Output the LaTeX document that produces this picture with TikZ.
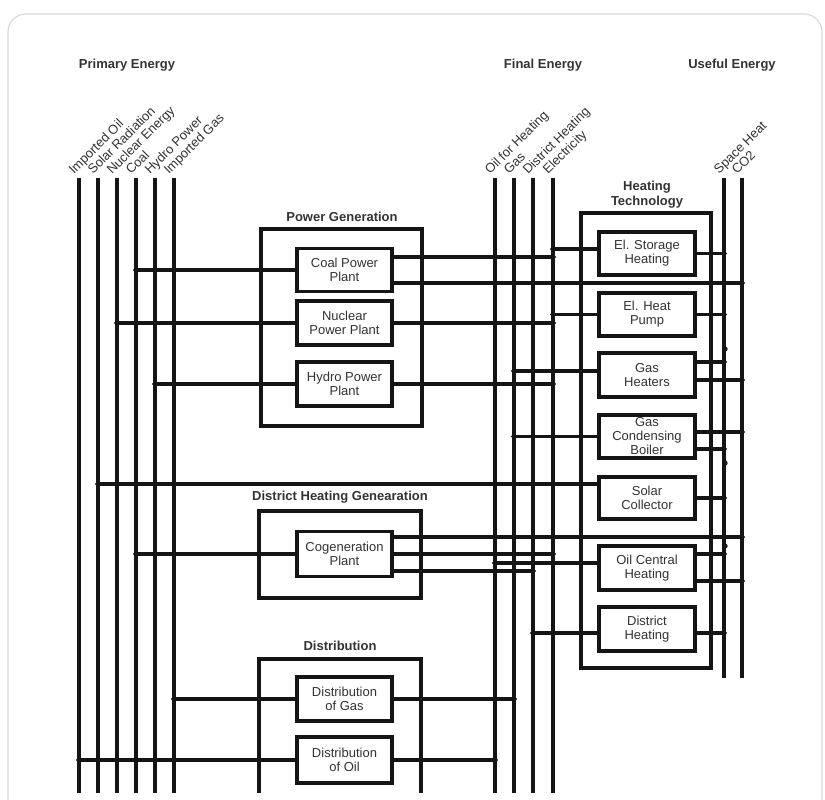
\documentclass[tikz,border=0pt]{standalone}
\usepackage{fontspec}
\setmainfont{Liberation Sans}
\usetikzlibrary{arrows.meta}
\definecolor{ink}{HTML}{151515}
\definecolor{txt}{HTML}{333333}
\tikzset{
	bus/.style={line width=3.6pt, draw=ink},
	wire/.style={line width=3.6pt, draw=ink},
	tap/.style={wire, shorten >=-2.5pt, -{Circle[length=5.5pt]}},
	grp/.style={draw=ink, line width=3.6pt},
	unit/.style={draw=ink, line width=3.6pt, fill=white, minimum width=95pt, minimum height=44pt, inner sep=0pt, align=center, text=txt, font=\fontsize{13}{14}\selectfont},
	head/.style={text=txt, align=center, font=\bfseries\fontsize{13}{15}\selectfont},
	lbl/.style={rotate=45, anchor=base west, inner sep=0pt, text=txt, font=\fontsize{13}{14}\selectfont}
}

\begin{document}
\begin{tikzpicture}[x=1pt, y=-1pt]
			%%%%% START %%%%%
			\useasboundingbox (0,0) rectangle (825,800);
			\draw[gray!30, line width=1.2pt, rounded corners=18pt] (8,14) rectangle (822,830);
			
			\node[head] (prim) at (127,65) {Primary Energy};
			\node[head] (fin) at (543,65) {Final Energy};
			\node[head] (use) at (732,65) {Useful Energy};
			
			% energy carriers
			\foreach \n/\x/\t in {ioil/79/Imported Oil, solar/98/Solar Radiation, nucl/117/Nuclear Energy, coal/136/Coal, hydro/155/Hydro Power, igas/174/Imported Gas, hoil/495/Oil for Heating, gas/514/Gas, dh/533/District Heating, elec/553/Electricity}{
				\coordinate (\n) at (\x,178);
				\draw[bus] (\n) -- ++(0,615);
				\node[lbl] (\n-txt) at ([xshift=-5pt,yshift=3pt]\n) {\t};
			}
			\foreach \n/\x/\t in {sh/724/Space Heat, co2/742/CO2}{
				\coordinate (\n) at (\x,178);
				\draw[bus] (\n) -- ++(0,500);
				\node[lbl] (\n-txt) at ([xshift=-5pt,yshift=3pt]\n) {\t};
			}
			
			% groups
			\node[head] (pgen-t) at (342,217) {Power Generation};
			\draw[grp] (261,229) rectangle (422,426);
			\node[head] (dhgen-t) at (340,497) {District Heating Genearation};
			\draw[grp] (259,511) rectangle (421,598);
			\node[head] (dist-t) at (340,646) {Distribution};
			\draw[grp] (259,793) |- (421,659) -- (421,793);
			\node[head] (htech-t) at (647,195) {Heating\\Technology};
			\draw[grp] (581,213) rectangle (711,668);
			
			% plants
			\node[unit, minimum height=43pt] (cpp) at (344.5,270) {Coal Power\\Plant};
			\node[unit] (npp) at (344.5,323) {Nuclear\\Power Plant};
			\node[unit] (hpp) at (344.5,384) {Hydro Power\\Plant};
			\node[unit, minimum height=45pt] (cogen) at (344.5,554) {Cogeneration\\Plant};
			\node[unit] (dgas) at (344.5,699) {Distribution\\of Gas};
			\node[unit, minimum height=46pt] (doil) at (344.5,760) {Distribution\\of Oil};
			
			% heating technologies
			\node[unit, minimum width=96pt, minimum height=43pt] (els) at (647,253.5) {El. Storage\\Heating};
			\node[unit, minimum width=96pt, minimum height=43pt] (ehp) at (647,314.5) {El. Heat\\Pump};
			\node[unit, minimum width=96pt] (gh) at (647,375) {Gas\\Heaters};
			\node[unit, minimum width=96pt, minimum height=43pt] (gcb) at (647,436.5) {Gas\\Condensing\\Boiler};
			\node[unit, minimum width=96pt, minimum height=42pt] (sc) at (647,498) {Solar\\Collector};
			\node[unit, minimum width=96pt] (och) at (647,568) {Oil Central\\Heating};
			\node[unit, minimum width=96pt] (dhb) at (647,629) {District\\Heating};
			
			% inputs
			\draw[tap] (cpp.west) -- (cpp.west -| coal);
			\draw[tap] (npp.west) -- (npp.west -| nucl);
			\draw[tap] (hpp.west) -- (hpp.west -| hydro);
			\draw[tap] (cogen.west) -- (cogen.west -| coal);
			\draw[tap] (dgas.west) -- (dgas.west -| igas);
			\draw[tap] (doil.west) -- (doil.west -| ioil);
			\draw[tap] ([yshift=4.5pt]els.west) coordinate (els-i) -- (els-i -| elec);
			\draw[tap] (ehp.west) -- (ehp.west -| elec);
			\draw[tap] ([yshift=4pt]gh.west) coordinate (gh-i) -- (gh-i -| gas);
			\draw[tap] (gcb.west) -- (gcb.west -| gas);
			\draw[tap] ([yshift=14pt]sc.west) coordinate (sc-i) -- (sc-i -| solar);
			\draw[tap] ([yshift=5pt]och.west) coordinate (och-i) -- (och-i -| hoil);
			\draw[tap] ([yshift=-4pt]dhb.west) coordinate (dhb-i) -- (dhb-i -| dh);
			
			% outputs
			\draw[tap] ([yshift=13pt]cpp.east) coordinate (cpp-a) -- (cpp-a -| elec);
			\draw[tap] ([yshift=-13pt]cpp.east) coordinate (cpp-b) -- (cpp-b -| co2);
			\draw[tap] (npp.east) -- (npp.east -| elec);
			\draw[tap] (hpp.east) -- (hpp.east -| elec);
			\draw[tap] ([yshift=17pt]cogen.east) coordinate (cog-a) -- (cog-a -| co2);
			\draw[tap] (cogen.east) -- (cogen.east -| elec);
			\draw[tap] ([yshift=-17pt]cogen.east) coordinate (cog-b) -- (cog-b -| dh);
			\draw[tap] (dgas.east) -- (dgas.east -| gas);
			\draw[tap] (doil.east) -- (doil.east -| hoil);
			
			\draw[tap] (els.east) -- (els.east -| sh);
			\draw[tap] (ehp.east) -- (ehp.east -| sh);
			\draw[tap] ([yshift=13pt]gh.east) coordinate (gh-a) -- (gh-a -| sh);
			\draw[tap] ([yshift=-5pt]gh.east) coordinate (gh-b) -- (gh-b -| co2);
			\draw[tap] ([yshift=4.5pt]gcb.east) coordinate (gcb-a) -- (gcb-a -| co2);
			\draw[tap] ([yshift=-12.5pt]gcb.east) coordinate (gcb-b) -- (gcb-b -| sh);
			\draw[tap] (sc.east) -- (sc.east -| sh);
			\draw[tap] ([yshift=14pt]och.east) coordinate (och-a) -- (och-a -| sh);
			\draw[tap] ([yshift=-13pt]och.east) coordinate (och-b) -- (och-b -| co2);
			\draw[tap] ([yshift=-4pt]dhb.east) coordinate (dhb-a) -- (dhb-a -| sh);
			
			\fill[ink] ([xshift=1pt]sh |- 0,349) circle (2.7pt);
			\fill[ink] ([xshift=1pt]sh |- 0,463) circle (2.7pt);
			\fill[ink] ([xshift=1pt]sh |- 0,546) circle (2.7pt);
			%%%%% END %%%%%
\end{tikzpicture}
\end{document}
